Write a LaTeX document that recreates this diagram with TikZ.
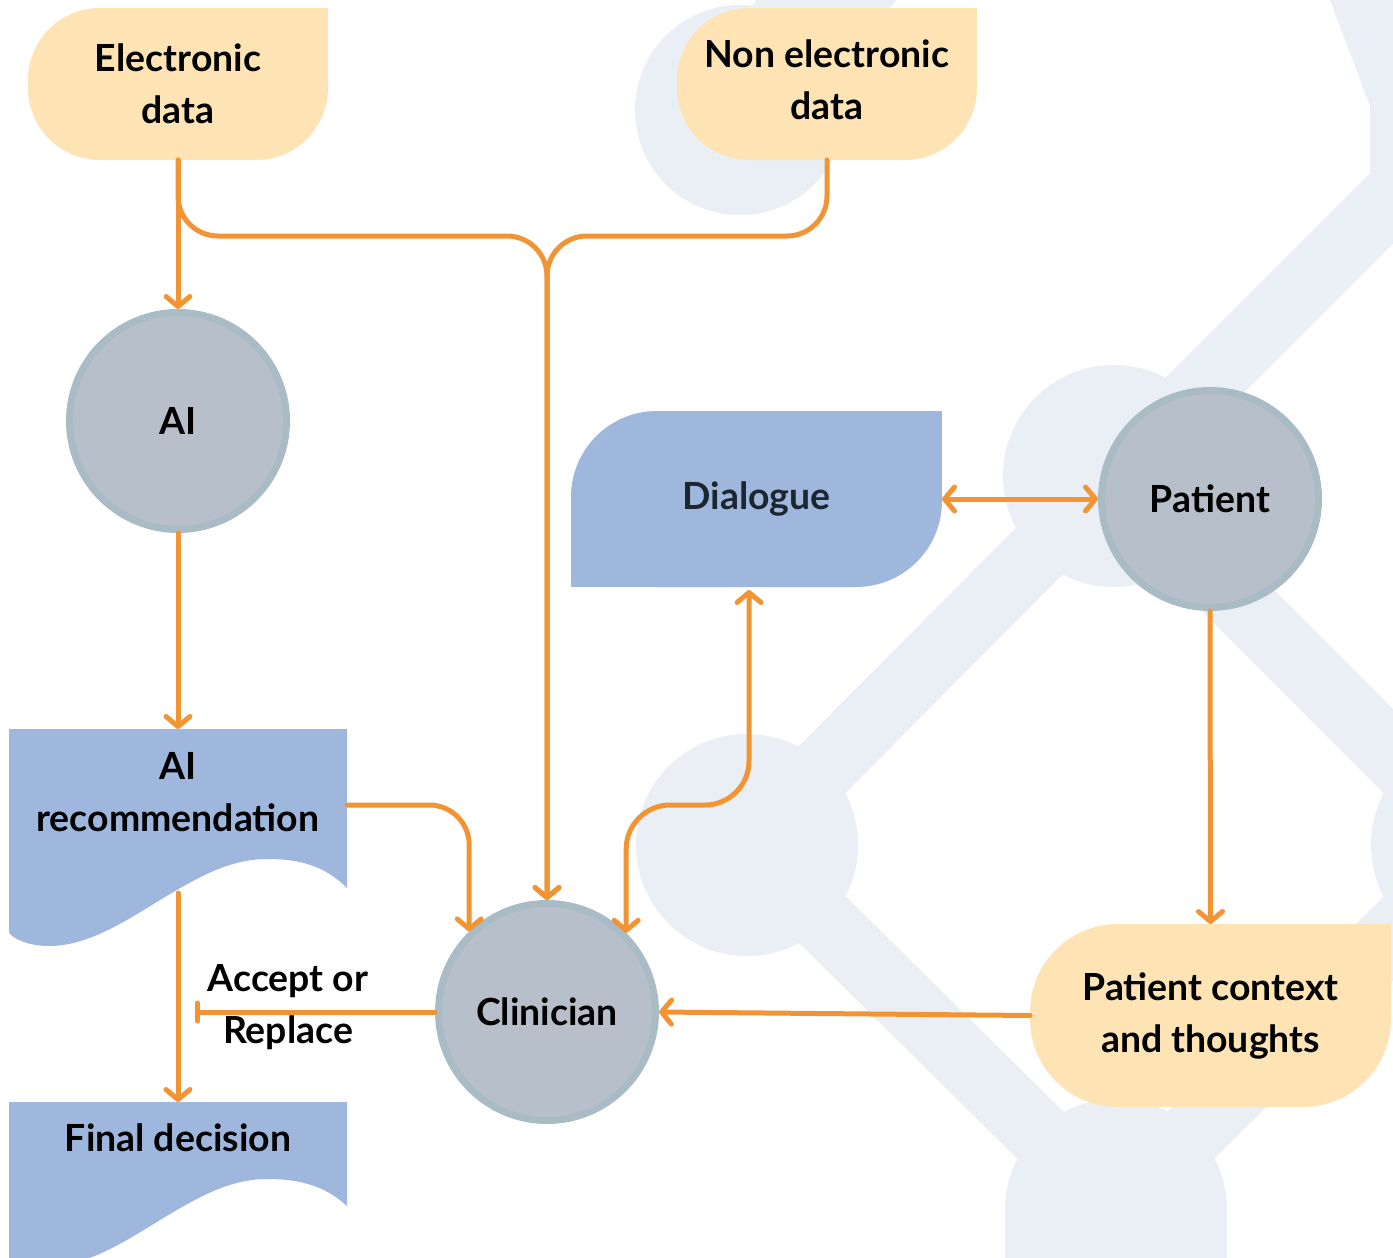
\documentclass[tikz,border=0pt]{standalone}
\usepackage{fontspec}
\setmainfont{Lato}
\usetikzlibrary{arrows.meta,calc}
\definecolor{peach}{HTML}{FEE4B4}
\definecolor{docblue}{HTML}{A0B7DD}
\definecolor{circfill}{HTML}{B7C0CA}
\definecolor{circline}{HTML}{A9BBC4}
\definecolor{orng}{HTML}{F29433}
\definecolor{bgtube}{HTML}{EAEEF5}
\definecolor{dlgtext}{HTML}{1C2630}
\begin{document}
\begin{tikzpicture}[x=0.5pt,y=-0.5pt,
 lbl/.style={font=\bfseries\fontsize{18.7pt}{26pt}\selectfont, align=center, text=black, inner sep=0pt},
 circnode/.style={circle, fill=circfill, draw=circline, line width=3.5pt, minimum size=108.5pt, inner sep=0pt, lbl},
 boxanchor/.style={lbl, inner sep=0pt, outer sep=0pt},
 conn/.style={draw=orng, line width=2.5pt, line cap=round, line join=round},
 arr/.style={conn, -{Straight Barb[length=5pt,width=12pt,round]}},
 darr/.style={conn, {Straight Barb[length=5pt,width=12pt,round]}-{Straight Barb[length=5pt,width=12pt,round]}},
 barr/.style={conn, -{Bar[width=9pt,round]}},
 tube/.style={draw=bgtube, line width=33pt, line cap=round, line join=round},
 blob/.style={fill=bgtube}
]
\useasboundingbox (0,0) rectangle (1393,1258);
\fill[white] (0,0) rectangle (1393,1258);

% background decoration
\begin{scope}
\clip (0,0) rectangle (1393,1258);
\fill[blob] (740,110) circle[radius=52.5pt];
\draw[tube, line width=55pt] (740,110) -- (850,-30);
\fill[blob] (747,845) circle[radius=55.5pt];
\fill[blob] (1114,476) circle[radius=55.5pt];
\fill[blob] (1482,845) circle[radius=55.5pt];
\fill[blob] (1116,1210) circle[radius=55.5pt];
\fill[blob] (1005,1210) rectangle (1227,1300);
\draw[tube] (747,845) -- (1114,476) -- (1482,845) -- (1116,1210) -- cycle;
\draw[tube] (1114,476) -- (1403,187) -- (1403,100) -- (1350,-40);
\end{scope}

% shapes
\fill[peach, rounded corners=36pt] (28,8) rectangle (328,160);
\fill[peach] (178,8) rectangle (328,84);
\fill[peach, rounded corners=36pt] (677,8) rectangle (977,160);
\fill[peach] (827,8) rectangle (977,84);
\fill[peach, rounded corners=44pt] (1030,924) rectangle (1391,1107);
\fill[peach] (1210,924) rectangle (1391,1015);
\fill[docblue, rounded corners=43pt] (571,411) rectangle (942,587);
\fill[docblue] (756,411) rectangle (942,499);
\fill[docblue] (571,499) rectangle (756,587);
\fill[docblue] (9,729) -- (347,729) -- (347,888)
  .. controls (325,866) and (300,859) .. (268,859)
  .. controls (230,859) and (200,876) .. (160,900)
  .. controls (120,925) and (85,946) .. (49,946)
  .. controls (30,946) and (15,940) .. (9,933) -- cycle;
\fill[docblue] (9,1102) -- (347,1102) -- (347,1206)
  .. controls (325,1186) and (300,1179) .. (268,1179)
  .. controls (230,1179) and (200,1196) .. (160,1220)
  .. controls (120,1245) and (85,1266) .. (49,1266) -- (9,1266) -- cycle;

% nodes
\node[boxanchor, minimum width=150pt, minimum height=76pt] (ed) at (178,84) {Electronic\\data};
\node[boxanchor, minimum width=150pt, minimum height=76pt] (ne) at (827,80) {Non electronic\\data};
\node[circnode] (ai) at (178,421) {AI};
\node[boxanchor, minimum width=169pt, minimum height=76pt] (ar) at (178,805) {};
\node[lbl] (artxt) at (178,792) {AI\\recommendation};
\node[boxanchor, minimum width=169pt, minimum height=36pt] (fd) at (178,1138) {Final decision};
\node[circnode] (cl) at (547,1012) {Clinician};
\node[boxanchor, minimum width=185.5pt, minimum height=88pt, text=dlgtext] (dl) at (756.5,499) {Dialogue};
\node[circnode] (pt) at (1210,499) {Patient};
\node[boxanchor, minimum width=180.5pt, minimum height=91.5pt] (pc) at (1210.5,1015.5) {Patient context\\and thoughts};
\node[lbl] (acc) at (288,1007) {Accept or\\Replace};

\coordinate (jn) at (547,236);
\coordinate (nes) at (827,160);
\coordinate (dlb) at (749,590);
\coordinate (mid) at (700,805);
\coordinate (bar) at (195,1012);

% connectors
\draw[arr] (ed.south) -- (ai.north);
\draw[arr, rounded corners=20pt] (ed.south) -- (ed.south |- jn) -- (jn) -- (cl.north);
\draw[arr, rounded corners=20pt] (nes) -- (nes |- jn) -- (jn) -- (cl.north);
\draw[arr] (ai.south) -- (ar.north);
\draw[arr, rounded corners=20pt] (ar.east) -| (cl.134);
\draw[arr] ([yshift=-6pt]ar.south) -- (fd.north);
\draw[barr] (cl.west) -- (bar);
\draw[arr] (pc.west) -- (cl.east);
\draw[arr] (pt.south) -- (pc.north);
\draw[darr] (dl.east) -- (pt.west);
\draw[darr, rounded corners=22pt] (dlb) -- (dlb |- mid) -- (cl.45 |- mid) -- (cl.45);
\end{tikzpicture}
\end{document}
